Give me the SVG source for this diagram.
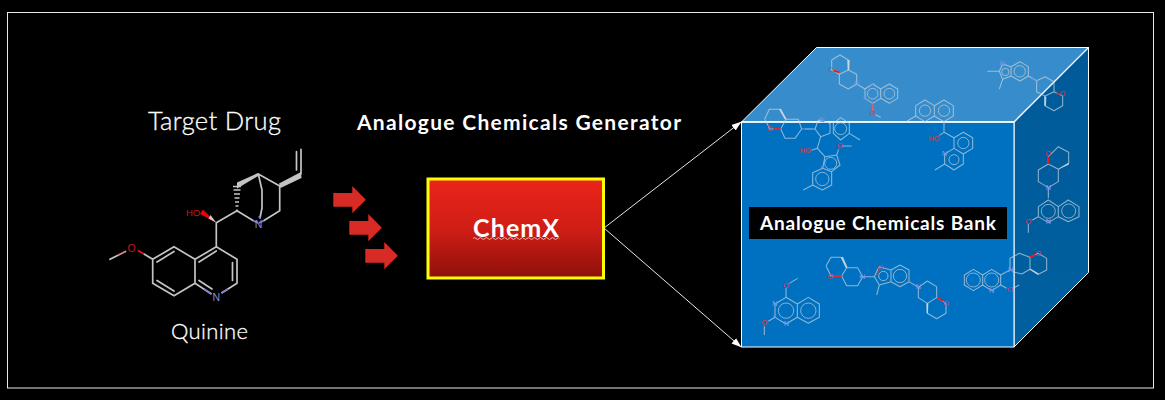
<svg xmlns="http://www.w3.org/2000/svg" width="1165" height="400" viewBox="0 0 1165 400">
<style>
.t{font-family:"Lato","Liberation Sans",sans-serif;fill:#fff}
.b{font-weight:700}
.l{font-weight:300;stroke:#fff;stroke-width:.3}
.q{fill:none;stroke:#c4c4c4;stroke-width:1.700;stroke-linecap:round;stroke-linejoin:round}
.m{fill:none;stroke:#c4d2dd;stroke-opacity:.72;stroke-width:3.200;stroke-linejoin:round}
.i{fill:none;stroke:#c4d2dd;stroke-opacity:.72;stroke-width:2.800}
.r{fill:none;stroke:#f01818;stroke-width:5}
.r2{fill:none;stroke:#e23b3b;stroke-opacity:.8;stroke-width:3}
.n{fill:none;stroke:#7f95e8;stroke-width:3}
.w{fill:#d2dbe2;fill-opacity:.85}
.ao{font-family:"Liberation Sans",sans-serif;font-size:22px;fill:#d8414c;text-anchor:middle}
.an{font-family:"Liberation Sans",sans-serif;font-size:22px;fill:#8098ea;text-anchor:middle}
.lab{font-family:"Liberation Sans",sans-serif;text-anchor:middle}
.edge{stroke:#e6e6e6;stroke-width:1;fill:none;marker-end:url(#ah)}
</style>
<defs>
<linearGradient id="red" x1="0" y1="0" x2="0" y2="1"><stop offset="0" stop-color="#ea241a"/><stop offset=".5" stop-color="#d01e16"/><stop offset="1" stop-color="#8e0f0b"/></linearGradient>
<linearGradient id="side" x1="0" y1="0" x2="0" y2="1"><stop offset="0" stop-color="#005a9a"/><stop offset="1" stop-color="#00609f"/></linearGradient>
<marker id="ah" viewBox="0 0 10 10" refX="9.500" refY="5" markerWidth="10" markerHeight="10" markerUnits="userSpaceOnUse" orient="auto"><path d="M0 1.500L10 5L0 8.500z" fill="#fff"/></marker>
<path id="arr" d="M0 7H19V0L32.500 13.700L19 27.300V20.700H0z" fill="#d92b26"/>
</defs>
<rect width="1165" height="400" fill="#000"/>
<rect x="7.500" y="12.500" width="1146" height="375.500" fill="none" stroke="#e8e8e8" stroke-width="1"/>

<g id="cube">
<path d="M1014 122L1088.500 47.500V272.500L1014 347z" fill="url(#side)" stroke="#fff" stroke-width="1"/>
<path d="M741.500 122L816.500 47.500H1088.500L1014 122z" fill="#378ccb" stroke="#fff" stroke-width="1"/>
<rect x="741.500" y="122" width="272.500" height="225" fill="#0070c0" stroke="#fff" stroke-width="1"/>
<path d="M741.500 122H1014L1088.500 47.500" fill="none" stroke="#fff" stroke-width="1.300"/>
</g>

<g id="bank-molecules-upper" transform="translate(730 40) scale(.33333)">
<path class="m" d="M305 60L330 45L355 60V90L328 103L305 90V60M355 90L380 103V132L355 147L328 132V103M380 132L405 147L428 132L452 147V175L428 190L405 175V147M452 147L478 132L503 147V175L478 190L452 175M428 190V210M436 224L452 232"/>
<circle class="i" cx="428" cy="161" r="16"/><circle class="i" cx="478" cy="161" r="16"/>
<path class="r" d="M311 92L328 97"/><path class="r2" d="M428 190V208"/>
<path class="n" d="M420 136L434 130M400 172L410 178"/>
<path class="w" d="M352 60L359 60L358 90L353 90z"/>
<text class="ao" x="304" y="97">O</text><text class="ao" x="428" y="224">O</text><text class="an" x="381" y="139">N</text>

<path class="m" d="M772 94H808L818 72L843 80V108L818 118L808 94M843 80L870 65L895 80V108L870 123L843 108M818 118L808 147M895 108L920 122L945 110L972 125V155L945 168L920 155V122M945 168L972 155L998 168V197L972 212L945 197V168"/>
<circle class="i" cx="869" cy="94" r="17"/><circle class="i" cx="826" cy="96" r="11"/>
<path class="n" d="M812 72L824 76M905 114L925 124"/><path class="r" d="M980 158L990 163"/>
<path class="w" d="M943 168L949 170L948 197L943 197z"/>
<text class="an" x="818" y="79">N</text><text class="ao" x="998" y="167">O</text>

<path class="m" d="M528 245L557 228V197L585 180L613 197V228L585 245L557 228M613 197L642 180L670 197V228L642 245L613 228M642 245V277L672 293L700 277L728 293V325L700 342L672 325V293M700 342V372L672 390L644 372V342L672 325M644 372L615 390M642 277L628 286"/>
<circle class="i" cx="585" cy="212" r="17"/><circle class="i" cx="642" cy="212" r="17"/><circle class="i" cx="700" cy="309" r="17"/><circle class="i" cx="672" cy="359" r="15"/>
<path class="r2" d="M628 286L620 291"/><text class="ao" x="612" y="302">HO</text><text class="an" x="644" y="349">N</text>

<path class="m" d="M104 238L118 208H150L168 238L152 267H120L104 238M168 238H205L215 267L195 295H165L152 267M225 267H255L265 240L300 250V280L272 290L255 267M310 250L332 233L358 250V280L332 300L310 280V250M358 280L390 300M272 290L262 325L285 350L320 345L330 375L305 395L278 385L285 350M262 325L245 331M320 345L326 328M335 318H365M278 385L305 395V435L277 450L248 435V398L278 385M248 435L220 450"/>
<circle class="i" cx="332" cy="266" r="18"/><circle class="i" cx="302" cy="370" r="18"/><circle class="i" cx="277" cy="417" r="20"/>
<path class="r" d="M130 267L152 267"/><path class="r2" d="M245 331L235 334M326 328L331 318"/>
<path class="n" d="M215 267L245 267M270 243L282 246M272 380L284 386"/>
<path class="w" d="M147 208L153 206L170 238L164 238z"/>
<text class="ao" x="226" y="340">HO</text><text class="ao" x="119" y="274">O</text><text class="ao" x="330" y="324">O</text><text class="an" x="276" y="247">N</text>

<path class="m" d="M955 350L985 320L1016 337V370L985 388L955 372V350M955 372L985 388V425L955 443L925 425V390L955 372M955 443V475"/>
<path class="r" d="M955 350V372"/><path class="w" d="M985 388L1016 368V374z"/>
<path class="n" d="M948 438L955 443L962 438M955 443V455"/>
<text class="ao" x="955" y="348">O</text><text class="an" x="955" y="450">N</text>
</g>

<g id="bank-molecules-lower" transform="translate(730 200) scale(.33333)">
<path class="m" d="M925 20L955 0L985 20V50L955 68L925 50V20M985 20L1015 0L1047 20V50L1015 65L985 50M925 50L907 60M895 72V98"/>
<circle class="i" cx="955" cy="34" r="21"/><circle class="i" cx="1016" cy="33" r="21"/>
<path class="r2" d="M907 60L900 58"/><path class="n" d="M948 62L962 62"/>
<text class="ao" x="895" y="72">O</text><text class="an" x="955" y="72">N</text>

<path class="m" d="M203 235L178 250M168 264V292L202 312V352L168 372L135 352V312L168 292M202 312L235 292L268 312V352L235 370L202 352M135 352L115 364M103 378V405"/>
<circle class="i" cx="168" cy="332" r="23"/><circle class="i" cx="235" cy="332" r="23"/>
<path class="r2" d="M178 250L172 254M115 364L108 368"/><path class="n" d="M130 308L140 314M130 348L140 354M163 370L175 370"/>
<text class="ao" x="168" y="263">O</text><text class="ao" x="103" y="376">O</text><text class="an" x="135" y="319">N</text><text class="an" x="169" y="377">N</text>

<path class="m" d="M288 198L303 172H333L350 203L335 228H303L288 198M350 203H383L398 230L383 257H350L335 228M398 230H433L447 200L483 210V245L448 255L433 230M483 210L510 195L537 210V245L510 260L483 245M448 255L440 285M537 245L565 262L592 243L620 260V293L592 310L565 293V262M620 293L648 310V340L620 356L592 340V310"/>
<circle class="i" cx="510" cy="228" r="20"/><circle class="i" cx="460" cy="228" r="14"/>
<path class="r" d="M310 228H335M622 293L640 303"/><path class="r2" d="M440 225L450 205"/>
<path class="n" d="M388 230H410M550 252L570 265"/><path class="w" d="M333 172L339 170L353 203H347z M589 310H595L594 340H590z"/>
<text class="ao" x="301" y="236">O</text><text class="ao" x="648" y="318">O</text><text class="ao" x="452" y="210">O</text><text class="an" x="398" y="237">N</text><text class="an" x="565" y="268">N</text>

<path class="m" d="M703 225L730 208L758 225V255L730 272L703 255V225M758 225L785 208L812 225V255L785 272L758 255M812 255L830 265M850 264L868 255M812 225L840 210V175L868 160L900 172V208L875 222L848 215M900 172L925 160L950 175V210L925 223L900 208"/>
<circle class="i" cx="730" cy="240" r="21"/><circle class="i" cx="785" cy="240" r="21"/>
<path class="r2" d="M830 265L834 268"/><path class="r" d="M900 172L916 164"/>
<path class="n" d="M825 218L848 208M778 270L792 270"/><path class="w" d="M898 208L902 206L925 220V226z"/>
<text class="ao" x="840" y="275">O</text><text class="ao" x="925" y="168">O</text><text class="an" x="842" y="216">N</text><text class="an" x="785" y="278">N</text>
</g>

<g id="bank-label">
<rect x="749" y="207" width="258" height="32" fill="#000"/>
<text class="t b" x="760" y="230" font-size="19" textLength="236" lengthAdjust="spacing">Analogue Chemicals Bank</text>
</g>

<g id="quinine">
<path class="q" d="M216.300 246.700L237 259.300V283.300L222 292.700M211 293.700L195 283.300V259.300L216.300 246.700V222.700L237 210.700M232.500 262.500V280.500M199 262L216.300 251M199 280.500L212 289M195 259.300L174 246.700L152.700 259.300V283.300L174 295.700L195 283.300M157 262L174 251.500M157 280.500L174 291M152.700 259.300L144 254M125.500 251.500L110 259.300"/>
<path class="q" d="M237 210.700L253 220.500M264 220.500L279.700 210.700V186L258.300 174L262 190V208L260 218M279.700 186L258.300 174"/>
<path class="q" d="M301 174V149.300M296.500 170V151.500"/>
<path d="M279 183.500L301 172L301.500 178L280.500 188z" fill="#c4c4c4"/>
<path d="M258 173L237 182.500V188.500L259 175.500z" fill="#c4c4c4"/>
<path d="M236.500 210H237.500M235.500 206H238.500M235 202H239M234.500 198H239.500M234 194H240M233.500 190H240.500M233 186.500H241" stroke="#c4c4c4" stroke-width="1.300" fill="none"/>
<path d="M216.300 222.700L200 214L203 209.500z" fill="#f00000"/>
<path d="M216.300 222.700L208.500 218.500L210.500 215z" fill="#d0c8c8"/>
<path d="M144 254L138 250.500" stroke="#e02020" stroke-width="1.700" fill="none"/>
<path d="M125.500 251.500L118 255.300" stroke="#e02020" stroke-opacity=".4" stroke-width="1.700" fill="none"/>
<path d="M222 292.700L228 289M211 293.700L204 289M253 220.500L258 223M264 220.500L259 223M260 218L259 216" stroke="#8080d8" stroke-width="1.700" fill="none"/>
<text class="lab" x="216.300" y="300.500" font-size="10.500" fill="#8a8ad8">N</text>
<text class="lab" x="258.500" y="227.500" font-size="10.500" fill="#8a8ad8">N</text>
<text class="lab" x="131.700" y="252" font-size="10.500" fill="#c81818">O</text>
<text class="lab" x="193" y="215.500" font-size="9.500" fill="#c81818">HO</text>
</g>

<g id="target-labels">
<text class="t l" x="148" y="130" font-size="25.500" textLength="133" lengthAdjust="spacing">Target Drug</text>
<text class="t l" x="171" y="339" font-size="22" textLength="77" lengthAdjust="spacing">Quinine</text>
<text class="t b" x="357" y="130" font-size="21" textLength="324" lengthAdjust="spacing">Analogue Chemicals Generator</text>
</g>

<g id="input-arrows">
<use href="#arr" x="333.300" y="186"/>
<use href="#arr" x="349.300" y="214"/>
<use href="#arr" x="365.300" y="242"/>
</g>

<g id="chemx">
<rect x="428" y="179" width="175.500" height="99" fill="url(#red)" stroke="#ff0" stroke-width="3"/>
<text class="t b" x="473" y="237" font-size="25" textLength="86" lengthAdjust="spacing">ChemX</text>
<path d="M473 238.500q1.500-2 3 0t3 0t3 0t3 0t3 0t3 0t3 0t3 0t3 0t3 0t3 0t3 0t3 0t3 0t3 0t3 0t3 0t3 0t3 0t3 0t3 0t3 0t3 0t3 0t3 0t3 0t3 0t3 0t2 0" fill="none" stroke="#f5b0a8" stroke-width="1"/>
</g>

<g id="connectors">
<path class="edge" d="M604 228L741 122"/>
<path class="edge" d="M604 228L741 347"/>
</g>
</svg>
